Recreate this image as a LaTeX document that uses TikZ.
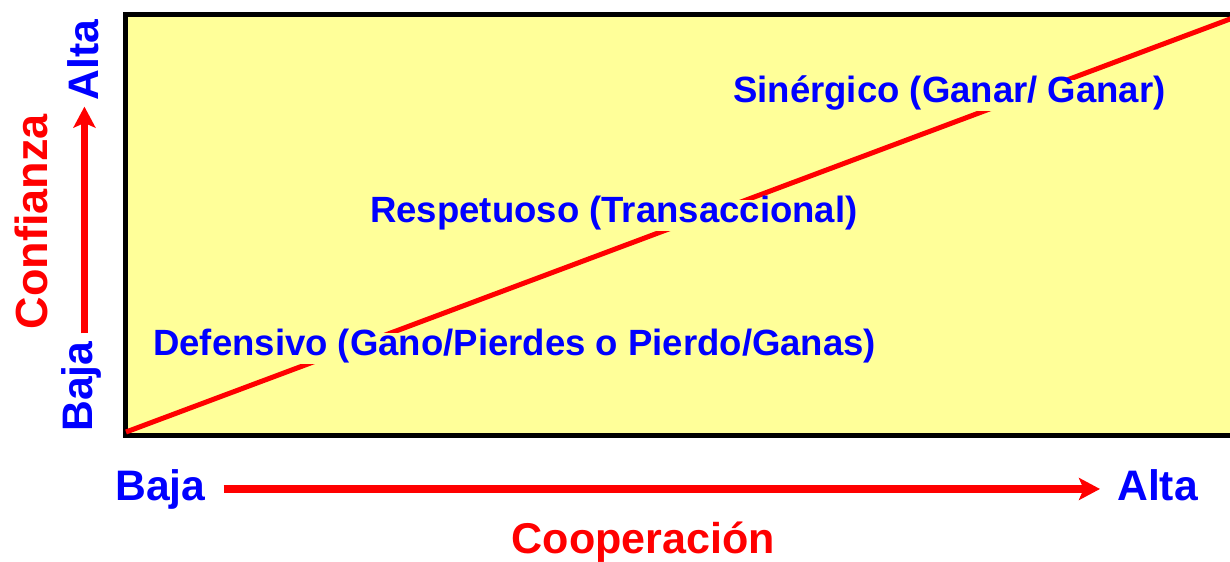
\documentclass[tikz,border=0pt]{standalone}
\usepackage{fontspec}
\setmainfont{Liberation Sans}
\usetikzlibrary{arrows.meta}
\definecolor{fondo}{HTML}{FFFF99}

\begin{document}
\begin{tikzpicture}[x=0.75pt,y=0.75pt,yscale=-1,
  etiq/.style={font=\fontsize{27.4}{33}\selectfont\bfseries, text=blue, fill=fondo, inner xsep=0pt, inner ysep=0pt, text height=16.5pt, text depth=6.5pt},
  eje/.style={font=\fontsize{32}{38}\selectfont\bfseries, text=blue, inner sep=0pt},
  titulo/.style={font=\fontsize{32.3}{38}\selectfont\bfseries, text=red, inner sep=0pt},
  flecha/.style={draw=red, line width=5.5pt, -{Stealth[length=15.75pt,width=16.5pt,inset=3.5pt]}}]
\useasboundingbox (0,0) rectangle (1230,561);
\clip (0,0) rectangle (1230,561);

%Shape: Rectangle
\draw [line width=3.75pt, fill=fondo] (125.5,14.5) rectangle (1240,435.5);
%Straight Lines
\draw [red, line width=3.75pt] (126,432) -- (1240,15.3);

% Text Node
\draw (153,355) node (defensivo) [anchor=base west][etiq] {Defensivo (Gano/Pierdes o Pierdo/Ganas)};
% Text Node
\draw (370,222) node (respetuoso) [anchor=base west][etiq] {Respetuoso (Transaccional)};
% Text Node
\draw (733,102) node (sinergico) [anchor=base west][etiq] {Sinérgico (Ganar/ Ganar)};

% Text Node
\draw (115,500) node (bajaX) [anchor=base west][eje] {Baja};
% Text Node
\draw (1117,500) node (altaX) [anchor=base west][eje] {Alta};
% Text Node
\draw (643.5,553) node (cooperacion) [anchor=base][titulo] {Cooperación};

% Text Node
\draw (92,432) node (bajaY) [anchor=base west, rotate=90][eje] {Baja};
% Text Node
\draw (98,19.5) node (altaY) [anchor=base east, rotate=90][eje] {Alta};
% Text Node
\draw (47,221.5) node (confianza) [anchor=base, rotate=90][titulo, font=\fontsize{33.75}{40}\selectfont\bfseries] {Confianza};

%Arrows
\draw [flecha, shorten <=13.5pt, shorten >=12.75pt] (bajaX.east) -- (bajaX.east -| altaX.west);
\coordinate (pieY) at ([xshift=2.6pt]bajaY.east);
\draw [flecha, shorten <=6pt, shorten >=4.5pt] (pieY) -- (pieY |- altaY.west);

\end{tikzpicture}
\end{document}
